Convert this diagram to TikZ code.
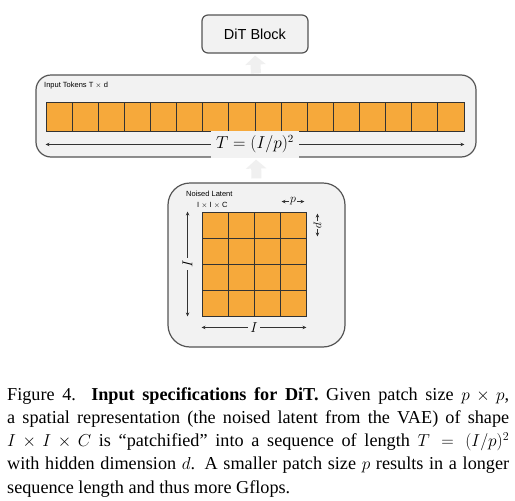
\documentclass[tikz,border=0pt]{standalone}
\usepackage{fontspec}
\setmainfont{Liberation Serif}
\newfontfamily\arialfont{Liberation Sans}
\usepackage{xcolor}
\definecolor{cPatch}{HTML}{F6A93B}
\definecolor{cEdge}{HTML}{333333}
\definecolor{cPanel}{HTML}{F2F2F2}
\definecolor{cFrame}{HTML}{555555}
\definecolor{cFlow}{HTML}{F0F0F0}
\usepackage{tikz}
\usetikzlibrary{positioning,arrows.meta,calc}
\tikzset{
  node-block/.style={draw=cFrame,line width=1.2pt,fill=cPanel,rounded corners=6pt,
    minimum width=106pt,minimum height=38pt,font=\arialfont\fontsize{14.5}{16}\selectfont},
  node-panel/.style={draw=cFrame,line width=1.2pt,fill=cPanel,inner sep=0pt},
  node-patch/.style={draw=cEdge,line width=0.9pt,fill=cPatch,inner sep=0pt},
  node-tag/.style={font=\arialfont\fontsize{7.5}{8}\selectfont,anchor=west,inner sep=0pt},
  arrow-flow/.style={-{Triangle[width=20pt,length=9pt]},line width=10pt,draw=cFlow},
  arrow-dim/.style={{Stealth[length=4pt,width=3.5pt]}-{Stealth[length=4pt,width=3.5pt]},
    line width=0.6pt,draw=cEdge},
}

\begin{document}
\begin{tikzpicture}[x=1pt,y=-1pt]
  \useasboundingbox[fill=white] (0,0) rectangle (515,501);
  % panels
  \node[node-block] (dit) at (255,34) {DiT Block};
  \node[node-panel,rounded corners=15pt,minimum width=440pt,minimum height=82pt] (tok) at (256,116) {};
  \node[node-panel,rounded corners=22pt,minimum width=177pt,minimum height=164pt] (lat) at (256.5,265) {};
  % input tokens
  \node[node-tag] (toklbl) at (44,86) {Input Tokens T $\times$ d};
  \foreach \i in {1,...,16}
    \node[node-patch,minimum width=26.125pt,minimum height=29pt] (t\i) at ({46+26.125*(\i-0.5)},116.5) {};
  \draw[arrow-dim] ($(t1.south west)+(0,13)$) -- ($(t16.south east)+(0,13)$)
    node[midway,fill=cPanel,inner sep=5pt,font=\fontsize{16}{18}\selectfont] {$T = (I/p)^2$};
  % noised latent
  \node[node-tag] (latlbl) at (186,194) {Noised Latent};
  \node[node-tag] (latdim) at (197,205.5) {I $\times$ I $\times$ C};
  \foreach \r in {1,...,4}
    \foreach \c in {1,...,4}
      \node[node-patch,minimum size=26pt] (g\r\c) at ({202+26*(\c-0.5)},{212+26*(\r-0.5)}) {};
  \draw[arrow-dim] ($(g11.north west)+(-14,0)$) -- ($(g41.south west)+(-14,0)$)
    node[midway,fill=cPanel,inner sep=2pt,rotate=90,font=\fontsize{14}{16}\selectfont] {$I$};
  \draw[arrow-dim] ($(g41.south west)+(0,11)$) -- ($(g44.south east)+(0,11)$)
    node[midway,fill=cPanel,inner sep=2pt,font=\fontsize{14}{16}\selectfont] {$I$};
  \draw[arrow-dim] ($(g14.north west)+(2,-10)$) -- ($(g14.north east)+(-2,-10)$)
    node[midway,fill=cPanel,inner sep=1.5pt,font=\fontsize{13}{15}\selectfont] {$p$};
  \draw[arrow-dim] ($(g14.north east)+(11,2)$) -- ($(g14.south east)+(11,-2)$)
    node[midway,fill=cPanel,inner sep=1.5pt,rotate=-90,font=\fontsize{13}{15}\selectfont] {$p$};
  % flow
  \draw[arrow-flow,shorten <=1pt,shorten >=2pt] (tok.north) -- (dit.south);
  \draw[arrow-flow,shorten <=4pt,shorten >=2pt] (lat.north) -- (tok.south);
  % caption
  \node[anchor=north west,inner sep=0pt,text width=502pt,align=justify,
    font=\fontsize{18.2}{23.3}\selectfont] (cap) at (7,387)
    {Figure 4.\ \ \textbf{Input specifications for DiT.} Given patch size $p \times p$,\linebreak
     a spatial representation (the noised latent from the VAE) of shape\linebreak
     $I \times I \times C$ is ``patchified'' into a sequence of length $T = (I/p)^2$\linebreak
     with hidden dimension $d$. A smaller patch size $p$ results in a longer\linebreak
     sequence length and thus more Gflops.};
\end{tikzpicture}
\end{document}
